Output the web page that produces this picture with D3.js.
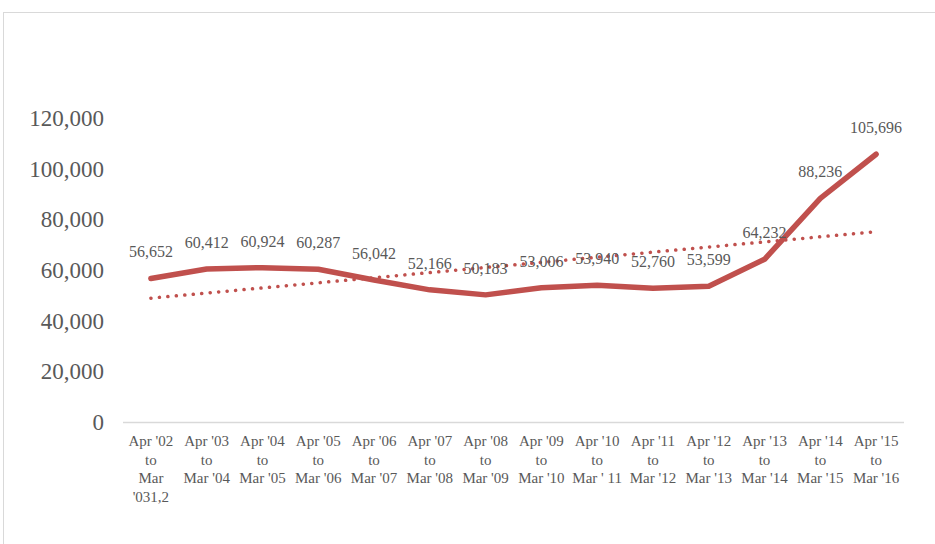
<!DOCTYPE html>
<html>
<head>
<meta charset="utf-8">
<script src="https://cdn.jsdelivr.net/npm/d3@7"></script>
<style>
  body { margin: 0; background: #fff; }
  svg { display: block; font-family: "Liberation Serif", "Times New Roman", serif; }
</style>
</head>
<body>
<div id="visData"></div>
<script>
const CATEGORIES = [
  ["Apr '02", "to", "Mar", "'031,2"],
  ["Apr '03", "to", "Mar '04"],
  ["Apr '04", "to", "Mar '05"],
  ["Apr '05", "to", "Mar '06"],
  ["Apr '06", "to", "Mar '07"],
  ["Apr '07", "to", "Mar '08"],
  ["Apr '08", "to", "Mar '09"],
  ["Apr '09", "to", "Mar '10"],
  ["Apr '10", "to", "Mar ' 11"],
  ["Apr '11", "to", "Mar '12"],
  ["Apr '12", "to", "Mar '13"],
  ["Apr '13", "to", "Mar '14"],
  ["Apr '14", "to", "Mar '15"],
  ["Apr '15", "to", "Mar '16"]
];
const VALUES = [56652, 60412, 60924, 60287, 56042, 52166, 50183, 53006, 53940, 52760, 53599, 64232, 88236, 105696];
const Y_TICKS = [0, 20000, 40000, 60000, 80000, 100000, 120000];

const WIDTH = 935;
const HEIGHT = 544;
const LINE_COLOR = "#c0504d";
const TEXT_COLOR = "#595959";
const GRID_COLOR = "#d9d9d9";

const svg = d3.select("#visData")
              .append("svg")
              .attr("width", WIDTH)
              .attr("height", HEIGHT);

// chart area border (runs off the right and bottom edge)
svg.append("rect")
   .attr("x", 3.5)
   .attr("y", 12.5)
   .attr("width", WIDTH)
   .attr("height", HEIGHT)
   .attr("fill", "none")
   .attr("stroke", GRID_COLOR);

const x = d3.scaleBand()
            .domain(d3.range(VALUES.length))
            .range([123, 904]);

const y = d3.scaleLinear()
            .domain([0, 120000])
            .range([422, 118]);

const cx = (i) => x(i) + x.bandwidth() / 2;

// y tick labels (no axis line in the original)
svg.append("g")
   .selectAll("text")
   .data(Y_TICKS)
   .enter()
   .append("text")
   .attr("x", 104)
   .attr("y", (d) => y(d))
   .attr("dy", "0.35em")
   .attr("text-anchor", "end")
   .attr("font-size", "23px")
   .attr("fill", TEXT_COLOR)
   .text((d) => d3.format(",")(d));

// x axis line
svg.append("line")
   .attr("x1", 123)
   .attr("x2", 904)
   .attr("y1", y(0) + 0.5)
   .attr("y2", y(0) + 0.5)
   .attr("stroke", GRID_COLOR)
   .attr("stroke-width", 1.5);

// category labels, several lines each
const cat = svg.append("g")
               .selectAll("text")
               .data(CATEGORIES)
               .enter()
               .append("text")
               .attr("text-anchor", "middle")
               .attr("font-size", "15px")
               .attr("fill", TEXT_COLOR);

cat.selectAll("tspan")
   .data((d, i) => d.map((s) => ({ s: s, i: i })))
   .enter()
   .append("tspan")
   .attr("x", (d) => cx(d.i))
   .attr("y", (d, j) => 446 + j * 18.5)
   .text((d) => d.s);

// linear trend line (least squares over the series)
const n = VALUES.length;
const mx = d3.mean(d3.range(n));
const my = d3.mean(VALUES);
const slope = d3.sum(VALUES, (v, i) => (i - mx) * (v - my)) / d3.sum(d3.range(n), (i) => (i - mx) * (i - mx));
const trend = d3.range(n).map((i) => my + slope * (i - mx));

const line = d3.line()
               .x((d, i) => cx(i))
               .y((d) => y(d));

svg.append("path")
   .datum([trend[0], trend[n - 1]])
   .attr("d", d3.line().x((d, i) => cx(i * (n - 1))).y((d) => y(d)))
   .attr("fill", "none")
   .attr("stroke", LINE_COLOR)
   .attr("stroke-width", 3.5)
   .attr("stroke-linecap", "round")
   .attr("stroke-dasharray", "0.1 8.4");

// main series
svg.append("path")
   .datum(VALUES)
   .attr("d", line)
   .attr("fill", "none")
   .attr("stroke", LINE_COLOR)
   .attr("stroke-width", 5.5)
   .attr("stroke-linejoin", "round")
   .attr("stroke-linecap", "round");

// data labels above points
svg.append("g")
   .selectAll("text")
   .data(VALUES)
   .enter()
   .append("text")
   .attr("x", (d, i) => cx(i))
   .attr("y", (d) => y(d) - 21)
   .attr("text-anchor", "middle")
   .attr("font-size", "16px")
   .attr("fill", TEXT_COLOR)
   .text((d) => d3.format(",")(d));
</script>
</body>
</html>
